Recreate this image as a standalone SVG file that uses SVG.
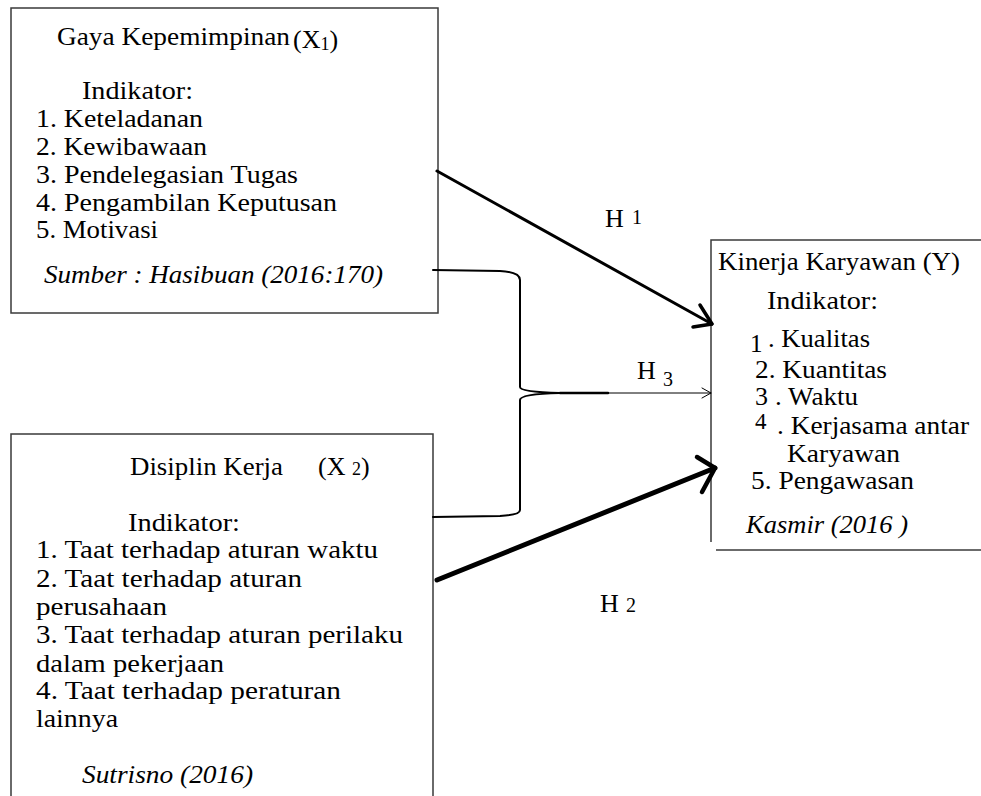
<svg xmlns="http://www.w3.org/2000/svg" width="981" height="796" viewBox="0 0 981 796">
<style>
  text { font-family: "Liberation Serif", "Times New Roman", serif; font-size: 26px; fill: #000; }
  .it { font-style: italic; }
  .sub { font-size: 18px; }
  .lbl { font-size: 20px; }
  .dig { font-size: 25px; }
  .dig4 { font-size: 23px; }
  .box { fill: none; stroke: #3a3a3a; stroke-width: 1.5; }
  .conn { fill: none; stroke: #000; stroke-linecap: round; stroke-linejoin: round; }
</style>
<rect width="981" height="796" fill="#fff"/>

<g id="node-x1">
  <rect class="box" x="11" y="8" width="427" height="305"/>
  <text x="57" y="45" textLength="233" lengthAdjust="spacingAndGlyphs">Gaya Kepemimpinan</text>
  <text x="293" y="48">(X<tspan class="sub" dy="2">1</tspan><tspan dy="-2">)</tspan></text>
  <text x="82" y="99" textLength="111" lengthAdjust="spacingAndGlyphs">Indikator:</text>
  <text x="36" y="127" textLength="167" lengthAdjust="spacingAndGlyphs">1. Keteladanan</text>
  <text x="36" y="155" textLength="171" lengthAdjust="spacingAndGlyphs">2. Kewibawaan</text>
  <text x="36" y="183" textLength="262" lengthAdjust="spacingAndGlyphs">3. Pendelegasian Tugas</text>
  <text x="36" y="211" textLength="301" lengthAdjust="spacingAndGlyphs">4. Pengambilan Keputusan</text>
  <text x="36" y="238" textLength="122" lengthAdjust="spacingAndGlyphs">5. Motivasi</text>
  <text class="it" x="44" y="283" textLength="339" lengthAdjust="spacingAndGlyphs">Sumber : Hasibuan (2016:170)</text>
</g>

<g id="node-x2">
  <path class="box" d="M11,800 V434 H433 V800"/>
  <text x="130" y="475" textLength="153" lengthAdjust="spacingAndGlyphs">Disiplin Kerja</text>
  <text x="318" y="475">(X <tspan class="sub">2</tspan>)</text>
  <text x="128" y="531" textLength="112" lengthAdjust="spacingAndGlyphs">Indikator:</text>
  <text x="36" y="558" textLength="342" lengthAdjust="spacingAndGlyphs">1. Taat terhadap aturan waktu</text>
  <text x="36" y="587" textLength="266" lengthAdjust="spacingAndGlyphs">2. Taat terhadap aturan</text>
  <text x="36" y="615" textLength="131" lengthAdjust="spacingAndGlyphs">perusahaan</text>
  <text x="36" y="643" textLength="367" lengthAdjust="spacingAndGlyphs">3. Taat terhadap aturan perilaku</text>
  <text x="36" y="672" textLength="188" lengthAdjust="spacingAndGlyphs">dalam pekerjaan</text>
  <text x="36" y="699" textLength="305" lengthAdjust="spacingAndGlyphs">4. Taat terhadap peraturan</text>
  <text x="36" y="727" textLength="82" lengthAdjust="spacingAndGlyphs">lainnya</text>
  <text class="it" x="82" y="783" textLength="171" lengthAdjust="spacingAndGlyphs">Sutrisno (2016)</text>
</g>

<g id="node-y">
  <path class="box" d="M711,542 V240 H981"/>
  <path class="box" d="M716,550 H981"/>
  <text x="718" y="270" textLength="242" lengthAdjust="spacingAndGlyphs">Kinerja Karyawan (Y)</text>
  <text x="767" y="309" textLength="111" lengthAdjust="spacingAndGlyphs">Indikator:</text>
  <text class="dig" x="750" y="352">1</text>
  <text x="768" y="347" textLength="102" lengthAdjust="spacingAndGlyphs">. Kualitas</text>
  <text x="755" y="378" textLength="132" lengthAdjust="spacingAndGlyphs">2. Kuantitas</text>
  <text x="755" y="405">3</text>
  <text x="775" y="405" textLength="83" lengthAdjust="spacingAndGlyphs">. Waktu</text>
  <text class="dig4" x="755" y="429">4</text>
  <text x="777" y="434" textLength="192" lengthAdjust="spacingAndGlyphs">. Kerjasama antar</text>
  <text x="787" y="462" textLength="113" lengthAdjust="spacingAndGlyphs">Karyawan</text>
  <text x="751" y="489" textLength="163" lengthAdjust="spacingAndGlyphs">5. Pengawasan</text>
  <text class="it" x="746" y="533" textLength="162" lengthAdjust="spacingAndGlyphs">Kasmir (2016 )</text>
</g>

<g id="connectors">
  <line class="conn" x1="437" y1="171" x2="712" y2="324" stroke-width="3"/>
  <polyline class="conn" points="700,305 712,324 693,327" stroke-width="3.5"/>

  <line class="conn" x1="437" y1="580" x2="715" y2="468" stroke-width="5"/>
  <polyline class="conn" points="697,457 715,468 702,492" stroke-width="4.5"/>

  <path class="conn" stroke-width="2" d="M433,270 L500,271 Q520,272 520,280 L520,387 Q520,392 560,393 Q520,394 520,400 L520,510 Q520,515 500,516 L433,517"/>
  <line class="conn" x1="560" y1="393" x2="608" y2="393" stroke-width="2.5"/>
  <line class="conn" x1="608" y1="393" x2="711" y2="393" stroke-width="1"/>
  <polyline class="conn" points="702,388 711,393 702,398" stroke-width="1"/>
</g>

<g id="labels">
  <text x="605" y="227">H</text>
  <text class="lbl" x="632" y="224">1</text>
  <text x="637" y="379">H</text>
  <text class="lbl" x="663" y="386">3</text>
  <text x="600" y="612">H</text>
  <text class="lbl" x="626" y="612">2</text>
</g>
</svg>
